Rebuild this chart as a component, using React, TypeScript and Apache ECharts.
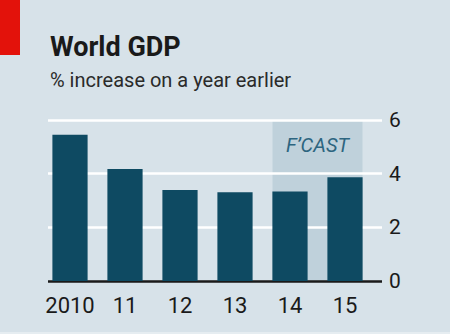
import React, { useEffect, useRef } from "react";
import * as echarts from "echarts";

const categories = ["2010", "11", "12", "13", "14", "15"];
const gdpGrowth = [5.45, 4.17, 3.39, 3.31, 3.34, 3.87];
const yTicks = [0, 2, 4, 6];
const forecastRange = ["14", "15"];
const forecastLabel = "F\u2019CAST";
const titleText = "World GDP";
const subtitleText = "% increase on a year earlier";

const FONT = "Roboto, 'Open Sans', sans-serif";
const BG = "#d7e2e9";
const BAR = "#0e4a62";
const SHADE = "#bfd1db";
const BAR_RATIO = 35 / 55;

export default function App() {
  const ref = useRef<HTMLDivElement>(null);
  useEffect(() => {
    if (!ref.current) return;
    const chart = echarts.init(ref.current, undefined, { renderer: "svg" });
    const yMin = yTicks[0];
    const yMax = yTicks[yTicks.length - 1];
    const fcStart = categories.indexOf(forecastRange[0]);
    const fcEnd = categories.indexOf(forecastRange[1]);
    chart.setOption({
      animation: false,
      backgroundColor: BG,
      title: {
        text: titleText,
        subtext: subtitleText,
        left: 45,
        top: 28,
        itemGap: 10,
        textStyle: { fontFamily: FONT, fontWeight: "bold", fontSize: 27, color: "#1a1a1a" },
        subtextStyle: { fontFamily: FONT, fontSize: 20, color: "#2a2a2a" },
      },
      graphic: [
        { type: "rect", left: 0, top: 0, shape: { width: 20, height: 55 }, style: { fill: "#e3120b" } },
        { type: "rect", left: 0, bottom: 0, shape: { width: 450, height: 2 }, style: { fill: "#e6edf1" } },
      ],
      grid: [
        { left: 42.5, width: 330, top: 120, height: 161 },
        { left: 48, width: 334, top: 120, height: 161 },
      ],
      xAxis: [
        {
          type: "category",
          gridIndex: 0,
          data: categories,
          axisLine: { show: false },
          axisTick: { show: false },
          axisLabel: { interval: 0, fontFamily: FONT, fontSize: 22, color: "#1a1a1a", margin: 13 },
        },
        {
          type: "category",
          gridIndex: 1,
          data: categories,
          show: false,
        },
      ],
      yAxis: [
        { type: "value", gridIndex: 0, min: yMin, max: yMax, interval: 2, show: false },
        {
          type: "value",
          gridIndex: 1,
          position: "right",
          min: yMin,
          max: yMax,
          interval: 2,
          axisLine: { show: false },
          axisTick: { show: false },
          axisLabel: { fontFamily: FONT, fontSize: 21, color: "#1a1a1a", margin: 7 },
          splitLine: { lineStyle: { color: ["#1a1a1a", "#ffffff", "#ffffff", "#ffffff"], width: 2.5 } },
        },
      ],
      series: [
        {
          type: "custom",
          xAxisIndex: 0,
          yAxisIndex: 0,
          z: -1,
          silent: true,
          encode: { x: [0, 1], y: 2 },
          data: [[fcStart, fcEnd, yMax]],
          renderItem: (params: any, api: any) => {
            const top = api.coord([api.value(0), api.value(2)]);
            const bottom = api.coord([api.value(1), yMin]);
            const band = api.size([1, 0])[0];
            const half = (band * BAR_RATIO) / 2;
            const x0 = top[0] - half;
            const x1 = bottom[0] + half;
            return {
              type: "group",
              children: [
                {
                  type: "rect",
                  shape: { x: x0, y: top[1], width: x1 - x0, height: bottom[1] - top[1] },
                  style: { fill: SHADE },
                },
                {
                  type: "text",
                  x: (x0 + x1) / 2,
                  y: top[1] + 25,
                  style: {
                    text: forecastLabel,
                    fill: "#2d6580",
                    fontFamily: FONT,
                    fontStyle: "italic",
                    fontSize: 20,
                    align: "center",
                    verticalAlign: "middle",
                  },
                },
              ],
            };
          },
        },
        {
          type: "bar",
          xAxisIndex: 0,
          yAxisIndex: 0,
          z: 3,
          barWidth: "64%",
          data: gdpGrowth,
          itemStyle: { color: BAR },
        },
      ],
    });
    return () => chart.dispose();
  }, []);
  return (
    <div
      ref={ref}
      style={{ position: "fixed", left: 0, top: 0, width: 450, height: 334 }}
    />
  );
}
